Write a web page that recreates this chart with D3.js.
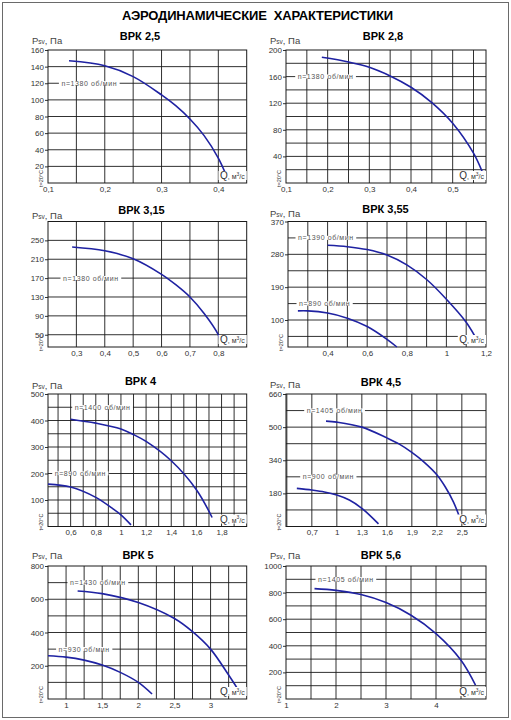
<!DOCTYPE html>
<html>
<head>
<meta charset="utf-8">
<script src="https://cdn.jsdelivr.net/npm/d3@7"></script>
<style>
  body { margin: 0; background: #fff; }
  svg { display: block; font-family: "Liberation Sans", Arial, sans-serif; }
</style>
</head>
<body>
<svg id="chart" width="511" height="720"></svg>
<script>
const TITLE = "АЭРОДИНАМИЧЕСКИЕ  ХАРАКТЕРИСТИКИ";
const models = ["ВРК 2,5", "ВРК 2,8", "ВРК 3,15", "ВРК 3,55", "ВРК 4", "ВРК 4,5", "ВРК 5", "ВРК 5,6"];

// axis ranges, tick labels and grid steps for each model
const xDomains = [[0.1, 0.45], [0.1, 0.58], [0.2, 0.9], [0.2, 1.2], [0.42, 2.0], [0.39, 2.79], [0.75, 3.5], [1, 5]];
const yDomains = [[0, 160], [0, 200], [24, 290], [26, 370], [0, 500], [20, 660], [0, 800], [0, 1000]];
const xTicks = [
  [0.1, 0.2, 0.3, 0.4],
  [0.1, 0.2, 0.3, 0.4, 0.5],
  [0.3, 0.4, 0.5, 0.6, 0.7, 0.8],
  [0.4, 0.6, 0.8, 1, 1.2],
  [0.6, 0.8, 1, 1.2, 1.4, 1.6, 1.8],
  [0.7, 1, 1.3, 1.6, 1.9, 2.2, 2.5],
  [1, 1.5, 2, 2.5, 3],
  [1, 2, 3, 4]
];
const yTicks = [
  [20, 40, 60, 80, 100, 120, 140, 160],
  [40, 80, 120, 160, 200],
  [50, 90, 130, 170, 210, 250],
  [100, 190, 280, 370],
  [100, 200, 300, 400, 500],
  [180, 340, 500, 660],
  [200, 400, 600, 800],
  [200, 400, 600, 800, 1000]
];
const xSteps = [0.05, 0.05, 0.1, 0.1, 0.1, 0.3, 0.25, 0.5];
const ySteps = [20, 20, 40, 45, 50, 80, 100, 100];

// rotation speed labels and the grid line they sit on
const rpmLabels = [
  ["n=1380 об/мин"], ["n=1380 об/мин"], ["n=1380 об/мин"],
  ["n=1390 об/мин", "n=890 об/мин"], ["n=1400 об/мин", "n=890 об/мин"],
  ["n=1405 об/мин", "n=900 об/мин"], ["n=1430 об/мин", "n=930 об/мин"],
  ["n=1405 об/мин"]
];
const rpmLines = [[120], [160], [170], [325, 145], [450, 200], [580, 260], [700, 300], [900]];

// curves: Q (м³/с) and Psv (Па)
const q25 = [0.137, 0.2, 0.25, 0.3, 0.325, 0.35, 0.375, 0.4, 0.411];
const p25 = [147, 141, 128, 106, 93, 77, 57, 30, 14];
const q28 = [0.186, 0.25, 0.3, 0.35, 0.4, 0.45, 0.5, 0.55, 0.571];
const p28 = [189, 182, 174, 161, 144, 121, 90, 45, 17];
const q315 = [0.285, 0.4, 0.5, 0.6, 0.65, 0.7, 0.75, 0.8, 0.805];
const p315 = [236, 228, 211, 178, 156, 130, 95, 50, 41];
const q355a = [0.4, 0.5, 0.6, 0.7, 0.8, 0.9, 1.0, 1.1, 1.16];
const p355a = [305, 301, 293, 278, 251, 211, 157, 94, 40];
const q355b = [0.25, 0.3, 0.4, 0.5, 0.6, 0.7, 0.75];
const p355b = [125, 125, 119, 105, 82, 47, 26];
const q4a = [0.6, 0.8, 1.0, 1.1, 1.2, 1.4, 1.6, 1.725];
const p4a = [405, 390, 368, 347, 321, 248, 139, 34];
const q4b = [0.42, 0.6, 0.8, 0.93, 1.0, 1.08];
const p4b = [160, 149, 110, 69, 44, 6];
const q45a = [0.87, 1.0, 1.3, 1.6, 1.75, 1.9, 2.05, 2.2, 2.3, 2.4, 2.5];
const p45a = [529, 524, 500, 448, 418, 378, 330, 270, 212, 138, 36];
const q45b = [0.52, 0.7, 0.85, 1.0, 1.15, 1.3, 1.5];
const p45b = [204, 196, 187, 172, 148, 108, 33];
const q5a = [1.16, 1.5, 2.0, 2.5, 2.75, 3.0, 3.25, 3.37];
const p5a = [650, 634, 580, 484, 405, 300, 144, 64];
const q5b = [0.75, 1.0, 1.25, 1.5, 1.75, 2.0, 2.19];
const p5b = [260, 252, 234, 204, 160, 100, 30];
const q56 = [1.57, 2.0, 2.5, 3.0, 3.5, 4.0, 4.5, 4.79];
const p56 = [830, 817, 785, 725, 630, 492, 292, 105];

const series = [
  [[q25, p25]], [[q28, p28]], [[q315, p315]],
  [[q355a, p355a], [q355b, p355b]], [[q4a, p4a], [q4b, p4b]],
  [[q45a, p45a], [q45b, p45b]], [[q5a, p5a], [q5b, p5b]],
  [[q56, p56]]
];

// layout: plot boxes [left, top, right, bottom]
const boxes = [
  [48, 50, 246.7, 183], [286, 50, 486, 183],
  [48, 221.5, 246.7, 347], [288, 221.5, 486, 347],
  [48, 394, 246.7, 526.5], [286, 394, 486, 526.5],
  [48, 566, 246.7, 699], [286, 566, 486, 699]
];
const titleX = [140, 383, 141.5, 385.5, 140.5, 381, 138, 381];
const titleY = [40, 39.5, 214, 213, 385, 386, 559, 559];
const psvY = [44, 43.5, 219, 216.5, 388.5, 388, 559, 559];
const labelDx = [[13.4], [11.7], [15], [10, 11], [26.7, 6.7], [20.7, 16.7], [22, 10.6], [32]];

const BLUE = "#1f22a2";
const GRID = "#1a1a1a";
const fmt = v => String(+v.toFixed(2)).replace(".", ",");

const svg = d3.select("#chart");

svg.append("rect")
  .attr("x", 2.5).attr("y", 2.5)
  .attr("width", 506).attr("height", 715)
  .attr("fill", "none").attr("stroke", "#6a6a6a");

svg.append("text")
  .attr("x", 257.5).attr("y", 20)
  .attr("text-anchor", "middle")
  .attr("font-size", 13).attr("font-weight", "bold")
  .attr("textLength", 271).attr("lengthAdjust", "spacing")
  .style("white-space", "pre")
  .text(TITLE);

function gridValues(domain, anchor, step) {
  const k0 = Math.ceil((domain[0] - anchor) / step - 1e-6);
  const k1 = Math.floor((domain[1] - anchor) / step + 1e-6);
  return d3.range(k0, k1 + 1)
    .map(k => +(anchor + k * step).toFixed(4))
    .filter(v => v > domain[0] + 1e-6 && v < domain[1] - 1e-6);
}

function whiteBox(g, text, padX, padY) {
  const b = text.node().getBBox();
  g.insert("rect", () => text.node())
    .attr("x", b.x - padX).attr("y", b.y + padY)
    .attr("width", b.width + 2 * padX).attr("height", b.height - 2 * padY)
    .attr("fill", "#fff");
}

models.forEach((name, i) => {
  const [x0, y0, x1, y1] = boxes[i];
  const x = d3.scaleLinear().domain(xDomains[i]).range([x0, x1]);
  const y = d3.scaleLinear().domain(yDomains[i]).range([y1, y0]);
  const g = svg.append("g");

  // grid
  g.selectAll(".gx")
    .data(gridValues(xDomains[i], xTicks[i][0], xSteps[i]))
    .join("line")
    .attr("x1", d => x(d)).attr("x2", d => x(d))
    .attr("y1", y0).attr("y2", y1)
    .attr("stroke", GRID).attr("stroke-width", 0.9);

  g.selectAll(".gy")
    .data(gridValues(yDomains[i], yTicks[i][0], ySteps[i]))
    .join("line")
    .attr("x1", x0).attr("x2", x1)
    .attr("y1", d => y(d)).attr("y2", d => y(d))
    .attr("stroke", GRID).attr("stroke-width", 0.9);

  g.append("rect")
    .attr("x", x0).attr("y", y0)
    .attr("width", x1 - x0).attr("height", y1 - y0)
    .attr("fill", "none").attr("stroke", GRID).attr("stroke-width", 1);

  // axes
  const ya = g.append("g")
    .attr("transform", `translate(${x0},0)`)
    .call(d3.axisLeft(y).tickValues(yTicks[i]).tickSize(3).tickPadding(1).tickFormat(fmt));
  ya.select(".domain").remove();
  ya.selectAll("line").attr("stroke", GRID).attr("stroke-width", 0.9);
  ya.selectAll("text").attr("font-size", 8).attr("fill", "#333")
    .attr("font-family", "Liberation Sans, Arial, sans-serif");

  const xa = g.append("g")
    .attr("transform", `translate(0,${y1})`)
    .call(d3.axisBottom(x).tickValues(xTicks[i]).tickSize(0).tickPadding(3).tickFormat(fmt));
  xa.select(".domain").remove();
  xa.selectAll("text").attr("font-size", 8).attr("fill", "#333")
    .attr("font-family", "Liberation Sans, Arial, sans-serif");

  // rpm labels on their grid line
  rpmLabels[i].forEach((lab, j) => {
    const t = g.append("text")
      .attr("x", x0 + labelDx[i][j]).attr("y", y(rpmLines[i][j]) + 2.4)
      .attr("font-size", 7).attr("letter-spacing", 0.6)
      .attr("fill", "#555")
      .text(lab);
    whiteBox(g, t, 2.5, 1.5);
  });

  // curves
  const line = d3.line()
    .x(d => x(d[0])).y(d => y(d[1]))
    .curve(d3.curveCatmullRom.alpha(0.5));
  series[i].forEach(([qs, ps]) => {
    g.append("path")
      .datum(qs.map((q, k) => [q, ps[k]]))
      .attr("d", line)
      .attr("fill", "none")
      .attr("stroke", BLUE).attr("stroke-width", 1.6);
  });

  // Q label
  const q = g.append("text")
    .attr("x", x1 - 2).attr("y", y1 - 4)
    .attr("text-anchor", "end").attr("fill", "#333");
  q.append("tspan").attr("font-size", 10).text("Q");
  q.append("tspan").attr("font-size", 7).text(", м");
  q.append("tspan").attr("font-size", 5).attr("dy", -3.5).text("3");
  q.append("tspan").attr("font-size", 7).attr("dy", 3.5).text("/с");
  whiteBox(g, q, 1.5, 1);

  // temperature note
  g.append("text")
    .attr("transform", `translate(${x0 - 5.5},${y1 + 4}) rotate(-90)`)
    .attr("font-size", 5.5).attr("fill", "#333")
    .text("t=20°C");

  // titles
  g.append("text")
    .attr("x", titleX[i]).attr("y", titleY[i])
    .attr("text-anchor", "middle")
    .attr("font-size", 11).attr("font-weight", "bold")
    .text(name);

  const p = g.append("text")
    .attr("x", i % 2 === 0 ? 32 : 270).attr("y", psvY[i])
    .attr("fill", "#444");
  p.append("tspan").attr("font-size", 9.5).text("P");
  p.append("tspan").attr("font-size", 6.5).text("sv");
  p.append("tspan").attr("font-size", 9.5).text(", Па");
});
</script>
</body>
</html>
